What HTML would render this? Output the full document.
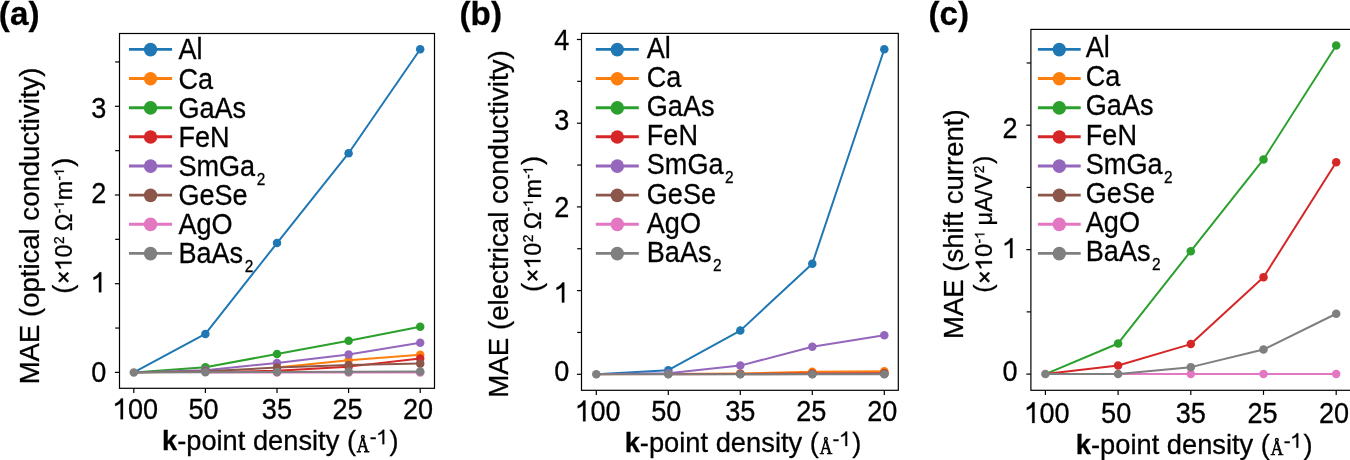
<!DOCTYPE html>
<html><head><meta charset="utf-8"><style>
html,body{margin:0;padding:0;background:#fff;width:1350px;height:460px;overflow:hidden}
svg{display:block;will-change:transform}
text,path{fill:#000;font-kerning:none;stroke:#000;stroke-width:0.28px} path{vector-effect:non-scaling-stroke}
</style></head><body>
<svg width="1350" height="460" viewBox="0 0 1350 460">
<rect width="1350" height="460" fill="#fff"/>
<clipPath id="ca"><rect x="119.5" y="33.5" width="315" height="354.8"/></clipPath>
<g clip-path="url(#ca)">
<polyline points="133.8,372.4 205.4,333.9 277,243.08 348.6,153.22 420.2,49.27" fill="none" stroke="#1f77b4" stroke-width="2.0" stroke-linejoin="round" stroke-linecap="round"/>
<circle cx="205.4" cy="333.9" r="4.25" fill="#1f77b4"/>
<circle cx="277" cy="243.08" r="4.25" fill="#1f77b4"/>
<circle cx="348.6" cy="153.22" r="4.25" fill="#1f77b4"/>
<circle cx="420.2" cy="49.27" r="4.25" fill="#1f77b4"/>
<polyline points="277,367.52 348.6,360.25 420.2,354.66" fill="none" stroke="#ff7f0e" stroke-width="2.0" stroke-linejoin="round" stroke-linecap="round"/>
<circle cx="348.6" cy="360.25" r="4.25" fill="#ff7f0e"/>
<circle cx="420.2" cy="354.66" r="4.25" fill="#ff7f0e"/>
<polyline points="133.8,372.4 205.4,367.17 277,354.04 348.6,340.82 420.2,326.81" fill="none" stroke="#2ca02c" stroke-width="2.0" stroke-linejoin="round" stroke-linecap="round"/>
<circle cx="205.4" cy="367.17" r="4.25" fill="#2ca02c"/>
<circle cx="277" cy="354.04" r="4.25" fill="#2ca02c"/>
<circle cx="348.6" cy="340.82" r="4.25" fill="#2ca02c"/>
<circle cx="420.2" cy="326.81" r="4.25" fill="#2ca02c"/>
<polyline points="205.4,372.05 277,370.8 348.6,366.63 420.2,358.47" fill="none" stroke="#d62728" stroke-width="2.0" stroke-linejoin="round" stroke-linecap="round"/>
<circle cx="277" cy="370.8" r="4.25" fill="#d62728"/>
<circle cx="348.6" cy="366.63" r="4.25" fill="#d62728"/>
<circle cx="420.2" cy="358.47" r="4.25" fill="#d62728"/>
<polyline points="133.8,372.4 205.4,370.18 277,362.91 348.6,354.39 420.2,342.86" fill="none" stroke="#9467bd" stroke-width="2.0" stroke-linejoin="round" stroke-linecap="round"/>
<circle cx="205.4" cy="370.18" r="4.25" fill="#9467bd"/>
<circle cx="277" cy="362.91" r="4.25" fill="#9467bd"/>
<circle cx="348.6" cy="354.39" r="4.25" fill="#9467bd"/>
<circle cx="420.2" cy="342.86" r="4.25" fill="#9467bd"/>
<polyline points="133.8,372.4 205.4,371.34 277,367.52 348.6,365.04 420.2,363.62" fill="none" stroke="#8c564b" stroke-width="2.0" stroke-linejoin="round" stroke-linecap="round"/>
<circle cx="205.4" cy="371.34" r="4.25" fill="#8c564b"/>
<circle cx="277" cy="367.52" r="4.25" fill="#8c564b"/>
<circle cx="348.6" cy="365.04" r="4.25" fill="#8c564b"/>
<circle cx="420.2" cy="363.62" r="4.25" fill="#8c564b"/>
<polyline points="205.4,372.4 277,372.4 348.6,372.4 420.2,372.4" fill="none" stroke="#e377c2" stroke-width="2.0" stroke-linejoin="round" stroke-linecap="round"/>
<circle cx="277" cy="372.4" r="4.25" fill="#e377c2"/>
<circle cx="348.6" cy="372.4" r="4.25" fill="#e377c2"/>
<circle cx="420.2" cy="372.4" r="4.25" fill="#e377c2"/>
<polyline points="133.8,372.4 205.4,372.22 277,371.96 348.6,371.78 420.2,371.6" fill="none" stroke="#7f7f7f" stroke-width="2.0" stroke-linejoin="round" stroke-linecap="round"/>
<circle cx="133.8" cy="372.4" r="4.25" fill="#7f7f7f"/>
<circle cx="205.4" cy="372.22" r="4.25" fill="#7f7f7f"/>
<circle cx="277" cy="371.96" r="4.25" fill="#7f7f7f"/>
<circle cx="348.6" cy="371.78" r="4.25" fill="#7f7f7f"/>
<circle cx="420.2" cy="371.6" r="4.25" fill="#7f7f7f"/>
</g>
<rect x="119.5" y="33.5" width="315" height="354.8" fill="none" stroke="#000" stroke-width="1.2"/>
<line x1="114.9" y1="372.4" x2="119.5" y2="372.4" stroke="#000" stroke-width="1.2"/>
<line x1="114.9" y1="283.7" x2="119.5" y2="283.7" stroke="#000" stroke-width="1.2"/>
<line x1="114.9" y1="195" x2="119.5" y2="195" stroke="#000" stroke-width="1.2"/>
<line x1="114.9" y1="106.3" x2="119.5" y2="106.3" stroke="#000" stroke-width="1.2"/>
<line x1="115.2" y1="328.05" x2="119.5" y2="328.05" stroke="#000" stroke-width="1.2"/>
<line x1="115.2" y1="239.35" x2="119.5" y2="239.35" stroke="#000" stroke-width="1.2"/>
<line x1="115.2" y1="150.65" x2="119.5" y2="150.65" stroke="#000" stroke-width="1.2"/>
<line x1="115.2" y1="61.95" x2="119.5" y2="61.95" stroke="#000" stroke-width="1.2"/>
<line x1="133.8" y1="388.3" x2="133.8" y2="392.9" stroke="#000" stroke-width="1.2"/>
<line x1="205.4" y1="388.3" x2="205.4" y2="392.9" stroke="#000" stroke-width="1.2"/>
<line x1="277" y1="388.3" x2="277" y2="392.9" stroke="#000" stroke-width="1.2"/>
<line x1="348.6" y1="388.3" x2="348.6" y2="392.9" stroke="#000" stroke-width="1.2"/>
<line x1="420.2" y1="388.3" x2="420.2" y2="392.9" stroke="#000" stroke-width="1.2"/>
<g transform="translate(91.2,382.08) scale(0.975,1.04)"><text x="0" y="0" style="font-family:'Liberation Sans', sans-serif;font-size:27.78px">0</text></g>
<g transform="translate(91.2,292.18) scale(0.975,1.04)"><path d="M763 0L583 0L583 1098Q500 1030 390 975Q280 920 175 890L175 1057Q340 1120 450 1215Q560 1310 610 1409L763 1409Z" transform="translate(0,0) scale(0.01356,-0.01356)"/></g>
<g transform="translate(91.2,203.08) scale(0.975,1.04)"><text x="0" y="0" style="font-family:'Liberation Sans', sans-serif;font-size:27.78px">2</text></g>
<g transform="translate(91.2,117.74) scale(0.975,1.04)"><text x="0" y="0" style="font-family:'Liberation Sans', sans-serif;font-size:27.78px">3</text></g>
<g transform="translate(112.88,419.15) scale(0.975,1.085)"><path d="M763 0L583 0L583 1098Q500 1030 390 975Q280 920 175 890L175 1057Q340 1120 450 1215Q560 1310 610 1409L763 1409Z" transform="translate(0,0) scale(0.01356,-0.01356)"/><text x="15.45 30.9" y="0" style="font-family:'Liberation Sans', sans-serif;font-size:27.78px">00</text></g>
<g transform="translate(188.42,419.15) scale(0.975,1.085)"><text x="0 15.45" y="0" style="font-family:'Liberation Sans', sans-serif;font-size:27.78px">50</text></g>
<g transform="translate(261.84,419.15) scale(0.975,1.085)"><text x="0 15.45" y="0" style="font-family:'Liberation Sans', sans-serif;font-size:27.78px">35</text></g>
<g transform="translate(332.52,419.15) scale(0.975,1.085)"><text x="0 15.45" y="0" style="font-family:'Liberation Sans', sans-serif;font-size:27.78px">25</text></g>
<g transform="translate(403.03,419.15) scale(0.975,1.085)"><text x="0 15.45" y="0" style="font-family:'Liberation Sans', sans-serif;font-size:27.78px">20</text></g>
<line x1="129" y1="49.4" x2="172.1" y2="49.4" stroke="#1f77b4" stroke-width="2.9"/>
<ellipse cx="150.55" cy="49.6" rx="6.7" ry="6.85" fill="#1f77b4"/>
<g transform="translate(178.4,59.4) scale(0.975,1.055)"><g transform="translate(0,0)"><text x="0 18.53" y="0" style="font-family:'Liberation Sans', sans-serif;font-size:27.78px">Al</text></g></g>
<line x1="129" y1="78.54" x2="172.1" y2="78.54" stroke="#ff7f0e" stroke-width="2.9"/>
<ellipse cx="150.55" cy="78.74" rx="6.7" ry="6.85" fill="#ff7f0e"/>
<g transform="translate(178.4,88.54) scale(0.975,1.055)"><g transform="translate(0,0)"><text x="0 20.06" y="0" style="font-family:'Liberation Sans', sans-serif;font-size:27.78px">Ca</text></g></g>
<line x1="129" y1="107.68" x2="172.1" y2="107.68" stroke="#2ca02c" stroke-width="2.9"/>
<ellipse cx="150.55" cy="107.88" rx="6.7" ry="6.85" fill="#2ca02c"/>
<g transform="translate(178.4,117.68) scale(0.975,1.055)"><g transform="translate(0,0)"><text x="0 21.61 37.06 55.59" y="0" style="font-family:'Liberation Sans', sans-serif;font-size:27.78px">GaAs</text></g></g>
<line x1="129" y1="136.82" x2="172.1" y2="136.82" stroke="#d62728" stroke-width="2.9"/>
<ellipse cx="150.55" cy="137.02" rx="6.7" ry="6.85" fill="#d62728"/>
<g transform="translate(178.4,146.82) scale(0.975,1.055)"><g transform="translate(0,0)"><text x="0 16.97 32.42" y="0" style="font-family:'Liberation Sans', sans-serif;font-size:27.78px">FeN</text></g></g>
<line x1="129" y1="165.96" x2="172.1" y2="165.96" stroke="#9467bd" stroke-width="2.9"/>
<ellipse cx="150.55" cy="166.16" rx="6.7" ry="6.85" fill="#9467bd"/>
<g transform="translate(178.4,175.96) scale(0.975,1.055)"><g transform="translate(0,0)"><text x="0 18.53 41.67 63.28" y="0" style="font-family:'Liberation Sans', sans-serif;font-size:27.78px">SmGa</text></g><g transform="translate(80.33,8.53)"><text x="0" y="0" style="font-family:'Liberation Sans', sans-serif;font-size:15.8px">2</text></g></g>
<line x1="129" y1="195.1" x2="172.1" y2="195.1" stroke="#8c564b" stroke-width="2.9"/>
<ellipse cx="150.55" cy="195.3" rx="6.7" ry="6.85" fill="#8c564b"/>
<g transform="translate(178.4,205.1) scale(0.975,1.055)"><g transform="translate(0,0)"><text x="0 21.61 37.06 55.59" y="0" style="font-family:'Liberation Sans', sans-serif;font-size:27.78px">GeSe</text></g></g>
<line x1="129" y1="224.24" x2="172.1" y2="224.24" stroke="#e377c2" stroke-width="2.9"/>
<ellipse cx="150.55" cy="224.44" rx="6.7" ry="6.85" fill="#e377c2"/>
<g transform="translate(178.4,234.24) scale(0.975,1.055)"><g transform="translate(0,0)"><text x="0 18.53 33.98" y="0" style="font-family:'Liberation Sans', sans-serif;font-size:27.78px">AgO</text></g></g>
<line x1="129" y1="253.38" x2="172.1" y2="253.38" stroke="#7f7f7f" stroke-width="2.9"/>
<ellipse cx="150.55" cy="253.58" rx="6.7" ry="6.85" fill="#7f7f7f"/>
<g transform="translate(178.4,263.38) scale(0.975,1.055)"><g transform="translate(0,0)"><text x="0 18.53 33.98 52.51" y="0" style="font-family:'Liberation Sans', sans-serif;font-size:27.78px">BaAs</text></g><g transform="translate(68,8.53)"><text x="0" y="0" style="font-family:'Liberation Sans', sans-serif;font-size:15.8px">2</text></g></g>
<g transform="translate(39.1,384.36) rotate(-90) scale(0.9912002397641847,1)"><g transform="translate(0,0)"><text x="0 23.14 41.67 67.92 77.17 92.62 108.07 115.79 121.96 135.85 151.3 165.19 179.08 194.53 209.98 225.43 240.88 254.77 262.49 268.66 282.55 288.72 296.44 310.33" y="0" style="font-family:'Liberation Sans', sans-serif;font-size:27.78px">MAE(opticalconductivity)</text></g></g>
<g transform="translate(71.5,293.7) rotate(-90) scale(0.9876089201809636,1)"><g transform="translate(0,0)"><text x="0" y="0" style="font-family:'Liberation Sans', sans-serif;font-size:27.78px">(</text></g><g transform="translate(10.05,-0.3)"><text x="0" y="0" style="font-family:'Liberation Sans', sans-serif;font-size:22.5px;stroke-width:0.6px">×</text></g><g transform="translate(23.59,0)"><path d="M763 0L583 0L583 1098Q500 1030 390 975Q280 920 175 890L175 1057Q340 1120 450 1215Q560 1310 610 1409L763 1409Z" transform="translate(0,0) scale(0.01152,-0.01152)"/><text x="13.13" y="0" style="font-family:'Liberation Sans', sans-serif;font-size:23.6px">0</text></g><g transform="translate(50.34,-7.6)"><text x="0" y="0" style="font-family:'Liberation Sans', sans-serif;font-size:13.8px">2</text></g><g transform="translate(63.52,0)"><text x="0" y="0" style="font-family:'Liberation Sans', sans-serif;font-size:23.6px">Ω</text></g><g transform="translate(81.56,-7.6)"><path d="M763 0L583 0L583 1098Q500 1030 390 975Q280 920 175 890L175 1057Q340 1120 450 1215Q560 1310 610 1409L763 1409Z" transform="translate(4.6,0) scale(0.00674,-0.00674)"/><text x="0" y="0" style="font-family:'Liberation Sans', sans-serif;font-size:13.8px">-</text></g><g transform="translate(94.63,0)"><text x="0" y="0" style="font-family:'Liberation Sans', sans-serif;font-size:23.6px">m</text></g><g transform="translate(114.69,-7.6)"><path d="M763 0L583 0L583 1098Q500 1030 390 975Q280 920 175 890L175 1057Q340 1120 450 1215Q560 1310 610 1409L763 1409Z" transform="translate(4.6,0) scale(0.00674,-0.00674)"/><text x="0" y="0" style="font-family:'Liberation Sans', sans-serif;font-size:13.8px">-</text></g><g transform="translate(128.46,0)"><text x="0" y="0" style="font-family:'Liberation Sans', sans-serif;font-size:27.78px">)</text></g></g>
<g transform="translate(162,450.4) scale(0.9814493397287359,1)"><g transform="translate(0,0)"><text x="0" y="0" style="font-family:'Liberation Sans', sans-serif;font-size:27.78px;font-weight:bold">k</text></g><g transform="translate(15.45,0)"><text x="0 9.25 24.7 40.15 46.32 61.77 77.21 92.66 108.11 123.56 137.45 143.62 151.34 172.95" y="0" style="font-family:'Liberation Sans', sans-serif;font-size:27.78px">-pointdensity(</text></g><g transform="translate(198.45,1.3) scale(0.81,1)"><text x="0" y="0" style="font-family:'Liberation Serif', serif;font-size:21.7px;stroke-width:0.75px">Å</text></g><g transform="translate(211.64,-6.2)"><path d="M763 0L583 0L583 1098Q500 1030 390 975Q280 920 175 890L175 1057Q340 1120 450 1215Q560 1310 610 1409L763 1409Z" transform="translate(6.99,0) scale(0.01025,-0.01025)"/><text x="0" y="0" style="font-family:'Liberation Sans', sans-serif;font-size:21px">-</text></g><g transform="translate(231.71,0)"><text x="0" y="0" style="font-family:'Liberation Sans', sans-serif;font-size:27.78px">)</text></g></g>
<g transform="translate(-1.13,25.2)"><g transform="translate(0,0)"><text x="0" y="0" style="font-family:'Liberation Sans', sans-serif;font-size:33.2px;font-weight:bold">(</text></g><g transform="translate(11.06,0)"><text x="0" y="0" style="font-family:'Liberation Sans', sans-serif;font-size:33.2px;font-weight:bold">a</text></g><g transform="translate(29.52,0)"><text x="0" y="0" style="font-family:'Liberation Sans', sans-serif;font-size:33.2px;font-weight:bold">)</text></g></g>
<clipPath id="cb"><rect x="581.5" y="33.4" width="316.8" height="356.9"/></clipPath>
<g clip-path="url(#cb)">
<polyline points="596.3,374.3 668.3,370.2 740.3,330.61 812.3,263.73 884.3,49.29" fill="none" stroke="#1f77b4" stroke-width="2.0" stroke-linejoin="round" stroke-linecap="round"/>
<circle cx="668.3" cy="370.2" r="4.25" fill="#1f77b4"/>
<circle cx="740.3" cy="330.61" r="4.25" fill="#1f77b4"/>
<circle cx="812.3" cy="263.73" r="4.25" fill="#1f77b4"/>
<circle cx="884.3" cy="49.29" r="4.25" fill="#1f77b4"/>
<polyline points="596.3,374.3 668.3,373.88 740.3,373.46 812.3,371.71 884.3,371.29" fill="none" stroke="#ff7f0e" stroke-width="2.0" stroke-linejoin="round" stroke-linecap="round"/>
<circle cx="668.3" cy="373.88" r="4.25" fill="#ff7f0e"/>
<circle cx="740.3" cy="373.46" r="4.25" fill="#ff7f0e"/>
<circle cx="812.3" cy="371.71" r="4.25" fill="#ff7f0e"/>
<circle cx="884.3" cy="371.29" r="4.25" fill="#ff7f0e"/>
<polyline points="668.3,374.3 740.3,373.88 812.3,373.46 884.3,373.3" fill="none" stroke="#d62728" stroke-width="2.0" stroke-linejoin="round" stroke-linecap="round"/>
<circle cx="740.3" cy="373.88" r="4.25" fill="#d62728"/>
<circle cx="812.3" cy="373.46" r="4.25" fill="#d62728"/>
<circle cx="884.3" cy="373.3" r="4.25" fill="#d62728"/>
<polyline points="596.3,374.3 668.3,373.21 740.3,365.6 812.3,346.76 884.3,335.21" fill="none" stroke="#9467bd" stroke-width="2.0" stroke-linejoin="round" stroke-linecap="round"/>
<circle cx="668.3" cy="373.21" r="4.25" fill="#9467bd"/>
<circle cx="740.3" cy="365.6" r="4.25" fill="#9467bd"/>
<circle cx="812.3" cy="346.76" r="4.25" fill="#9467bd"/>
<circle cx="884.3" cy="335.21" r="4.25" fill="#9467bd"/>
<polyline points="740.3,374.3 812.3,373.88 884.3,373.63" fill="none" stroke="#8c564b" stroke-width="2.0" stroke-linejoin="round" stroke-linecap="round"/>
<circle cx="812.3" cy="373.88" r="4.25" fill="#8c564b"/>
<circle cx="884.3" cy="373.63" r="4.25" fill="#8c564b"/>
<polyline points="596.3,374.3 668.3,374.3 740.3,374.3 812.3,374.3 884.3,374.3" fill="none" stroke="#7f7f7f" stroke-width="2.0" stroke-linejoin="round" stroke-linecap="round"/>
<circle cx="596.3" cy="374.3" r="4.25" fill="#7f7f7f"/>
<circle cx="668.3" cy="374.3" r="4.25" fill="#7f7f7f"/>
<circle cx="740.3" cy="374.3" r="4.25" fill="#7f7f7f"/>
<circle cx="812.3" cy="374.3" r="4.25" fill="#7f7f7f"/>
<circle cx="884.3" cy="374.3" r="4.25" fill="#7f7f7f"/>
</g>
<rect x="581.5" y="33.4" width="316.8" height="356.9" fill="none" stroke="#000" stroke-width="1.2"/>
<line x1="576.9" y1="374.3" x2="581.5" y2="374.3" stroke="#000" stroke-width="1.2"/>
<line x1="576.9" y1="290.6" x2="581.5" y2="290.6" stroke="#000" stroke-width="1.2"/>
<line x1="576.9" y1="206.9" x2="581.5" y2="206.9" stroke="#000" stroke-width="1.2"/>
<line x1="576.9" y1="123.2" x2="581.5" y2="123.2" stroke="#000" stroke-width="1.2"/>
<line x1="576.9" y1="39.5" x2="581.5" y2="39.5" stroke="#000" stroke-width="1.2"/>
<line x1="577.2" y1="332.45" x2="581.5" y2="332.45" stroke="#000" stroke-width="1.2"/>
<line x1="577.2" y1="248.75" x2="581.5" y2="248.75" stroke="#000" stroke-width="1.2"/>
<line x1="577.2" y1="165.05" x2="581.5" y2="165.05" stroke="#000" stroke-width="1.2"/>
<line x1="577.2" y1="81.35" x2="581.5" y2="81.35" stroke="#000" stroke-width="1.2"/>
<line x1="596.3" y1="390.3" x2="596.3" y2="394.9" stroke="#000" stroke-width="1.2"/>
<line x1="668.3" y1="390.3" x2="668.3" y2="394.9" stroke="#000" stroke-width="1.2"/>
<line x1="740.3" y1="390.3" x2="740.3" y2="394.9" stroke="#000" stroke-width="1.2"/>
<line x1="812.3" y1="390.3" x2="812.3" y2="394.9" stroke="#000" stroke-width="1.2"/>
<line x1="884.3" y1="390.3" x2="884.3" y2="394.9" stroke="#000" stroke-width="1.2"/>
<g transform="translate(554.2,380.83) scale(0.975,1.04)"><text x="0" y="0" style="font-family:'Liberation Sans', sans-serif;font-size:27.78px">0</text></g>
<g transform="translate(554.2,302.38) scale(0.975,1.04)"><path d="M763 0L583 0L583 1098Q500 1030 390 975Q280 920 175 890L175 1057Q340 1120 450 1215Q560 1310 610 1409L763 1409Z" transform="translate(0,0) scale(0.01356,-0.01356)"/></g>
<g transform="translate(554.2,217.08) scale(0.975,1.04)"><text x="0" y="0" style="font-family:'Liberation Sans', sans-serif;font-size:27.78px">2</text></g>
<g transform="translate(554.2,130.48) scale(0.975,1.04)"><text x="0" y="0" style="font-family:'Liberation Sans', sans-serif;font-size:27.78px">3</text></g>
<g transform="translate(554.2,50.08) scale(0.975,1.04)"><text x="0" y="0" style="font-family:'Liberation Sans', sans-serif;font-size:27.78px">4</text></g>
<g transform="translate(575.38,421.35) scale(0.975,1.085)"><path d="M763 0L583 0L583 1098Q500 1030 390 975Q280 920 175 890L175 1057Q340 1120 450 1215Q560 1310 610 1409L763 1409Z" transform="translate(0,0) scale(0.01356,-0.01356)"/><text x="15.45 30.9" y="0" style="font-family:'Liberation Sans', sans-serif;font-size:27.78px">00</text></g>
<g transform="translate(651.32,421.35) scale(0.975,1.085)"><text x="0 15.45" y="0" style="font-family:'Liberation Sans', sans-serif;font-size:27.78px">50</text></g>
<g transform="translate(725.14,421.35) scale(0.975,1.085)"><text x="0 15.45" y="0" style="font-family:'Liberation Sans', sans-serif;font-size:27.78px">35</text></g>
<g transform="translate(796.22,421.35) scale(0.975,1.085)"><text x="0 15.45" y="0" style="font-family:'Liberation Sans', sans-serif;font-size:27.78px">25</text></g>
<g transform="translate(867.13,421.35) scale(0.975,1.085)"><text x="0 15.45" y="0" style="font-family:'Liberation Sans', sans-serif;font-size:27.78px">20</text></g>
<line x1="595.8" y1="49.4" x2="638.8" y2="49.4" stroke="#1f77b4" stroke-width="2.9"/>
<ellipse cx="617.3" cy="49.6" rx="6.7" ry="6.85" fill="#1f77b4"/>
<g transform="translate(646.8,57.9) scale(0.975,1.055)"><g transform="translate(0,0)"><text x="0 18.53" y="0" style="font-family:'Liberation Sans', sans-serif;font-size:27.78px">Al</text></g></g>
<line x1="595.8" y1="78.54" x2="638.8" y2="78.54" stroke="#ff7f0e" stroke-width="2.9"/>
<ellipse cx="617.3" cy="78.74" rx="6.7" ry="6.85" fill="#ff7f0e"/>
<g transform="translate(646.8,87.04) scale(0.975,1.055)"><g transform="translate(0,0)"><text x="0 20.06" y="0" style="font-family:'Liberation Sans', sans-serif;font-size:27.78px">Ca</text></g></g>
<line x1="595.8" y1="107.68" x2="638.8" y2="107.68" stroke="#2ca02c" stroke-width="2.9"/>
<ellipse cx="617.3" cy="107.88" rx="6.7" ry="6.85" fill="#2ca02c"/>
<g transform="translate(646.8,116.18) scale(0.975,1.055)"><g transform="translate(0,0)"><text x="0 21.61 37.06 55.59" y="0" style="font-family:'Liberation Sans', sans-serif;font-size:27.78px">GaAs</text></g></g>
<line x1="595.8" y1="136.82" x2="638.8" y2="136.82" stroke="#d62728" stroke-width="2.9"/>
<ellipse cx="617.3" cy="137.02" rx="6.7" ry="6.85" fill="#d62728"/>
<g transform="translate(646.8,145.32) scale(0.975,1.055)"><g transform="translate(0,0)"><text x="0 16.97 32.42" y="0" style="font-family:'Liberation Sans', sans-serif;font-size:27.78px">FeN</text></g></g>
<line x1="595.8" y1="165.96" x2="638.8" y2="165.96" stroke="#9467bd" stroke-width="2.9"/>
<ellipse cx="617.3" cy="166.16" rx="6.7" ry="6.85" fill="#9467bd"/>
<g transform="translate(646.8,174.46) scale(0.975,1.055)"><g transform="translate(0,0)"><text x="0 18.53 41.67 63.28" y="0" style="font-family:'Liberation Sans', sans-serif;font-size:27.78px">SmGa</text></g><g transform="translate(80.33,8.53)"><text x="0" y="0" style="font-family:'Liberation Sans', sans-serif;font-size:15.8px">2</text></g></g>
<line x1="595.8" y1="195.1" x2="638.8" y2="195.1" stroke="#8c564b" stroke-width="2.9"/>
<ellipse cx="617.3" cy="195.3" rx="6.7" ry="6.85" fill="#8c564b"/>
<g transform="translate(646.8,203.6) scale(0.975,1.055)"><g transform="translate(0,0)"><text x="0 21.61 37.06 55.59" y="0" style="font-family:'Liberation Sans', sans-serif;font-size:27.78px">GeSe</text></g></g>
<line x1="595.8" y1="224.24" x2="638.8" y2="224.24" stroke="#e377c2" stroke-width="2.9"/>
<ellipse cx="617.3" cy="224.44" rx="6.7" ry="6.85" fill="#e377c2"/>
<g transform="translate(646.8,232.74) scale(0.975,1.055)"><g transform="translate(0,0)"><text x="0 18.53 33.98" y="0" style="font-family:'Liberation Sans', sans-serif;font-size:27.78px">AgO</text></g></g>
<line x1="595.8" y1="253.38" x2="638.8" y2="253.38" stroke="#7f7f7f" stroke-width="2.9"/>
<ellipse cx="617.3" cy="253.58" rx="6.7" ry="6.85" fill="#7f7f7f"/>
<g transform="translate(646.8,261.88) scale(0.975,1.055)"><g transform="translate(0,0)"><text x="0 18.53 33.98 52.51" y="0" style="font-family:'Liberation Sans', sans-serif;font-size:27.78px">BaAs</text></g><g transform="translate(68,8.53)"><text x="0" y="0" style="font-family:'Liberation Sans', sans-serif;font-size:15.8px">2</text></g></g>
<g transform="translate(508,397.67) rotate(-90) scale(0.9956804022027647,1)"><g transform="translate(0,0)"><text x="0 23.14 41.67 67.92 77.17 92.62 98.79 114.24 128.13 135.85 145.1 151.27 165.16 180.61 194.5 208.39 223.84 239.29 254.74 270.19 284.08 291.8 297.97 311.86 318.03 325.75 339.64" y="0" style="font-family:'Liberation Sans', sans-serif;font-size:27.78px">MAE(electricalconductivity)</text></g></g>
<g transform="translate(540.5,292) rotate(-90) scale(0.9883537232881893,1)"><g transform="translate(0,0)"><text x="0" y="0" style="font-family:'Liberation Sans', sans-serif;font-size:27.78px">(</text></g><g transform="translate(10.05,-0.3)"><text x="0" y="0" style="font-family:'Liberation Sans', sans-serif;font-size:22.5px;stroke-width:0.6px">×</text></g><g transform="translate(23.59,0)"><path d="M763 0L583 0L583 1098Q500 1030 390 975Q280 920 175 890L175 1057Q340 1120 450 1215Q560 1310 610 1409L763 1409Z" transform="translate(0,0) scale(0.01152,-0.01152)"/><text x="13.13" y="0" style="font-family:'Liberation Sans', sans-serif;font-size:23.6px">0</text></g><g transform="translate(50.34,-7.6)"><text x="0" y="0" style="font-family:'Liberation Sans', sans-serif;font-size:13.8px">2</text></g><g transform="translate(63.52,0)"><text x="0" y="0" style="font-family:'Liberation Sans', sans-serif;font-size:23.6px">Ω</text></g><g transform="translate(81.56,-7.6)"><path d="M763 0L583 0L583 1098Q500 1030 390 975Q280 920 175 890L175 1057Q340 1120 450 1215Q560 1310 610 1409L763 1409Z" transform="translate(4.6,0) scale(0.00674,-0.00674)"/><text x="0" y="0" style="font-family:'Liberation Sans', sans-serif;font-size:13.8px">-</text></g><g transform="translate(94.63,0)"><text x="0" y="0" style="font-family:'Liberation Sans', sans-serif;font-size:23.6px">m</text></g><g transform="translate(114.69,-7.6)"><path d="M763 0L583 0L583 1098Q500 1030 390 975Q280 920 175 890L175 1057Q340 1120 450 1215Q560 1310 610 1409L763 1409Z" transform="translate(4.6,0) scale(0.00674,-0.00674)"/><text x="0" y="0" style="font-family:'Liberation Sans', sans-serif;font-size:13.8px">-</text></g><g transform="translate(128.46,0)"><text x="0" y="0" style="font-family:'Liberation Sans', sans-serif;font-size:27.78px">)</text></g></g>
<g transform="translate(624.69,452.2) scale(0.9822921472338701,1)"><g transform="translate(0,0)"><text x="0" y="0" style="font-family:'Liberation Sans', sans-serif;font-size:27.78px;font-weight:bold">k</text></g><g transform="translate(15.45,0)"><text x="0 9.25 24.7 40.15 46.32 61.77 77.21 92.66 108.11 123.56 137.45 143.62 151.34 172.95" y="0" style="font-family:'Liberation Sans', sans-serif;font-size:27.78px">-pointdensity(</text></g><g transform="translate(198.45,1.3) scale(0.81,1)"><text x="0" y="0" style="font-family:'Liberation Serif', serif;font-size:21.7px;stroke-width:0.75px">Å</text></g><g transform="translate(211.64,-6.2)"><path d="M763 0L583 0L583 1098Q500 1030 390 975Q280 920 175 890L175 1057Q340 1120 450 1215Q560 1310 610 1409L763 1409Z" transform="translate(6.99,0) scale(0.01025,-0.01025)"/><text x="0" y="0" style="font-family:'Liberation Sans', sans-serif;font-size:21px">-</text></g><g transform="translate(231.71,0)"><text x="0" y="0" style="font-family:'Liberation Sans', sans-serif;font-size:27.78px">)</text></g></g>
<g transform="translate(459.56,24.8)"><g transform="translate(0,0)"><text x="0" y="0" style="font-family:'Liberation Sans', sans-serif;font-size:33.2px;font-weight:bold">(</text></g><g transform="translate(11.06,0)"><text x="0" y="0" style="font-family:'Liberation Sans', sans-serif;font-size:33.2px;font-weight:bold">b</text></g><g transform="translate(31.34,0)"><text x="0" y="0" style="font-family:'Liberation Sans', sans-serif;font-size:33.2px;font-weight:bold">)</text></g></g>
<clipPath id="cc"><rect x="1030.9" y="29.4" width="320" height="360.9"/></clipPath>
<g clip-path="url(#cc)">
<polyline points="1045.4,374.1 1118.1,343.49 1190.8,251.14 1263.5,159.42 1336.2,45.55" fill="none" stroke="#2ca02c" stroke-width="2.0" stroke-linejoin="round" stroke-linecap="round"/>
<circle cx="1118.1" cy="343.49" r="4.25" fill="#2ca02c"/>
<circle cx="1190.8" cy="251.14" r="4.25" fill="#2ca02c"/>
<circle cx="1263.5" cy="159.42" r="4.25" fill="#2ca02c"/>
<circle cx="1336.2" cy="45.55" r="4.25" fill="#2ca02c"/>
<polyline points="1045.4,374.1 1118.1,365.51 1190.8,344.11 1263.5,277.28 1336.2,162.16" fill="none" stroke="#d62728" stroke-width="2.0" stroke-linejoin="round" stroke-linecap="round"/>
<circle cx="1118.1" cy="365.51" r="4.25" fill="#d62728"/>
<circle cx="1190.8" cy="344.11" r="4.25" fill="#d62728"/>
<circle cx="1263.5" cy="277.28" r="4.25" fill="#d62728"/>
<circle cx="1336.2" cy="162.16" r="4.25" fill="#d62728"/>
<polyline points="1118.1,374.1 1190.8,374.1 1263.5,374.1 1336.2,374.1" fill="none" stroke="#e377c2" stroke-width="2.0" stroke-linejoin="round" stroke-linecap="round"/>
<circle cx="1190.8" cy="374.1" r="4.25" fill="#e377c2"/>
<circle cx="1263.5" cy="374.1" r="4.25" fill="#e377c2"/>
<circle cx="1336.2" cy="374.1" r="4.25" fill="#e377c2"/>
<polyline points="1045.4,374.1 1118.1,374.1 1190.8,367.13 1263.5,349.58 1336.2,313.74" fill="none" stroke="#7f7f7f" stroke-width="2.0" stroke-linejoin="round" stroke-linecap="round"/>
<circle cx="1045.4" cy="374.1" r="4.25" fill="#7f7f7f"/>
<circle cx="1118.1" cy="374.1" r="4.25" fill="#7f7f7f"/>
<circle cx="1190.8" cy="367.13" r="4.25" fill="#7f7f7f"/>
<circle cx="1263.5" cy="349.58" r="4.25" fill="#7f7f7f"/>
<circle cx="1336.2" cy="313.74" r="4.25" fill="#7f7f7f"/>
</g>
<rect x="1030.9" y="29.4" width="320" height="360.9" fill="none" stroke="#000" stroke-width="1.2"/>
<line x1="1026.3" y1="374.1" x2="1030.9" y2="374.1" stroke="#000" stroke-width="1.2"/>
<line x1="1026.3" y1="249.65" x2="1030.9" y2="249.65" stroke="#000" stroke-width="1.2"/>
<line x1="1026.3" y1="125.2" x2="1030.9" y2="125.2" stroke="#000" stroke-width="1.2"/>
<line x1="1026.6" y1="311.88" x2="1030.9" y2="311.88" stroke="#000" stroke-width="1.2"/>
<line x1="1026.6" y1="187.43" x2="1030.9" y2="187.43" stroke="#000" stroke-width="1.2"/>
<line x1="1026.6" y1="62.98" x2="1030.9" y2="62.98" stroke="#000" stroke-width="1.2"/>
<line x1="1045.4" y1="390.3" x2="1045.4" y2="394.9" stroke="#000" stroke-width="1.2"/>
<line x1="1118.1" y1="390.3" x2="1118.1" y2="394.9" stroke="#000" stroke-width="1.2"/>
<line x1="1190.8" y1="390.3" x2="1190.8" y2="394.9" stroke="#000" stroke-width="1.2"/>
<line x1="1263.5" y1="390.3" x2="1263.5" y2="394.9" stroke="#000" stroke-width="1.2"/>
<line x1="1336.2" y1="390.3" x2="1336.2" y2="394.9" stroke="#000" stroke-width="1.2"/>
<g transform="translate(1002.4,380.83) scale(0.975,1.04)"><text x="0" y="0" style="font-family:'Liberation Sans', sans-serif;font-size:27.78px">0</text></g>
<g transform="translate(1002.4,258.08) scale(0.975,1.04)"><path d="M763 0L583 0L583 1098Q500 1030 390 975Q280 920 175 890L175 1057Q340 1120 450 1215Q560 1310 610 1409L763 1409Z" transform="translate(0,0) scale(0.01356,-0.01356)"/></g>
<g transform="translate(1002.4,138.38) scale(0.975,1.04)"><text x="0" y="0" style="font-family:'Liberation Sans', sans-serif;font-size:27.78px">2</text></g>
<g transform="translate(1024.48,423.05) scale(0.975,1.085)"><path d="M763 0L583 0L583 1098Q500 1030 390 975Q280 920 175 890L175 1057Q340 1120 450 1215Q560 1310 610 1409L763 1409Z" transform="translate(0,0) scale(0.01356,-0.01356)"/><text x="15.45 30.9" y="0" style="font-family:'Liberation Sans', sans-serif;font-size:27.78px">00</text></g>
<g transform="translate(1101.12,423.05) scale(0.975,1.085)"><text x="0 15.45" y="0" style="font-family:'Liberation Sans', sans-serif;font-size:27.78px">50</text></g>
<g transform="translate(1175.64,423.05) scale(0.975,1.085)"><text x="0 15.45" y="0" style="font-family:'Liberation Sans', sans-serif;font-size:27.78px">35</text></g>
<g transform="translate(1247.42,423.05) scale(0.975,1.085)"><text x="0 15.45" y="0" style="font-family:'Liberation Sans', sans-serif;font-size:27.78px">25</text></g>
<g transform="translate(1319.03,423.05) scale(0.975,1.085)"><text x="0 15.45" y="0" style="font-family:'Liberation Sans', sans-serif;font-size:27.78px">20</text></g>
<line x1="1037.9" y1="49.4" x2="1080.7" y2="49.4" stroke="#1f77b4" stroke-width="2.9"/>
<ellipse cx="1059.3" cy="49.6" rx="6.7" ry="6.85" fill="#1f77b4"/>
<g transform="translate(1085.8,57.2) scale(0.975,1.055)"><g transform="translate(0,0)"><text x="0 18.53" y="0" style="font-family:'Liberation Sans', sans-serif;font-size:27.78px">Al</text></g></g>
<line x1="1037.9" y1="78.54" x2="1080.7" y2="78.54" stroke="#ff7f0e" stroke-width="2.9"/>
<ellipse cx="1059.3" cy="78.74" rx="6.7" ry="6.85" fill="#ff7f0e"/>
<g transform="translate(1085.8,86.34) scale(0.975,1.055)"><g transform="translate(0,0)"><text x="0 20.06" y="0" style="font-family:'Liberation Sans', sans-serif;font-size:27.78px">Ca</text></g></g>
<line x1="1037.9" y1="107.68" x2="1080.7" y2="107.68" stroke="#2ca02c" stroke-width="2.9"/>
<ellipse cx="1059.3" cy="107.88" rx="6.7" ry="6.85" fill="#2ca02c"/>
<g transform="translate(1085.8,115.48) scale(0.975,1.055)"><g transform="translate(0,0)"><text x="0 21.61 37.06 55.59" y="0" style="font-family:'Liberation Sans', sans-serif;font-size:27.78px">GaAs</text></g></g>
<line x1="1037.9" y1="136.82" x2="1080.7" y2="136.82" stroke="#d62728" stroke-width="2.9"/>
<ellipse cx="1059.3" cy="137.02" rx="6.7" ry="6.85" fill="#d62728"/>
<g transform="translate(1085.8,144.62) scale(0.975,1.055)"><g transform="translate(0,0)"><text x="0 16.97 32.42" y="0" style="font-family:'Liberation Sans', sans-serif;font-size:27.78px">FeN</text></g></g>
<line x1="1037.9" y1="165.96" x2="1080.7" y2="165.96" stroke="#9467bd" stroke-width="2.9"/>
<ellipse cx="1059.3" cy="166.16" rx="6.7" ry="6.85" fill="#9467bd"/>
<g transform="translate(1085.8,173.76) scale(0.975,1.055)"><g transform="translate(0,0)"><text x="0 18.53 41.67 63.28" y="0" style="font-family:'Liberation Sans', sans-serif;font-size:27.78px">SmGa</text></g><g transform="translate(80.33,8.53)"><text x="0" y="0" style="font-family:'Liberation Sans', sans-serif;font-size:15.8px">2</text></g></g>
<line x1="1037.9" y1="195.1" x2="1080.7" y2="195.1" stroke="#8c564b" stroke-width="2.9"/>
<ellipse cx="1059.3" cy="195.3" rx="6.7" ry="6.85" fill="#8c564b"/>
<g transform="translate(1085.8,202.9) scale(0.975,1.055)"><g transform="translate(0,0)"><text x="0 21.61 37.06 55.59" y="0" style="font-family:'Liberation Sans', sans-serif;font-size:27.78px">GeSe</text></g></g>
<line x1="1037.9" y1="224.24" x2="1080.7" y2="224.24" stroke="#e377c2" stroke-width="2.9"/>
<ellipse cx="1059.3" cy="224.44" rx="6.7" ry="6.85" fill="#e377c2"/>
<g transform="translate(1085.8,232.04) scale(0.975,1.055)"><g transform="translate(0,0)"><text x="0 18.53 33.98" y="0" style="font-family:'Liberation Sans', sans-serif;font-size:27.78px">AgO</text></g></g>
<line x1="1037.9" y1="253.38" x2="1080.7" y2="253.38" stroke="#7f7f7f" stroke-width="2.9"/>
<ellipse cx="1059.3" cy="253.58" rx="6.7" ry="6.85" fill="#7f7f7f"/>
<g transform="translate(1085.8,261.18) scale(0.975,1.055)"><g transform="translate(0,0)"><text x="0 18.53 33.98 52.51" y="0" style="font-family:'Liberation Sans', sans-serif;font-size:27.78px">BaAs</text></g><g transform="translate(68,8.53)"><text x="0" y="0" style="font-family:'Liberation Sans', sans-serif;font-size:15.8px">2</text></g></g>
<g transform="translate(963.4,339.06) rotate(-90) scale(0.9923368515019543,1)"><g transform="translate(0,0)"><text x="0 23.14 41.67 67.92 77.17 91.06 106.51 112.68 120.4 135.83 149.72 165.17 174.43 183.68 199.13 214.58 222.29" y="0" style="font-family:'Liberation Sans', sans-serif;font-size:27.78px">MAE(shiftcurrent)</text></g></g>
<g transform="translate(992,292.76) rotate(-90) scale(1.0043377814760173,1)"><g transform="translate(0,0)"><text x="0" y="0" style="font-family:'Liberation Sans', sans-serif;font-size:25px">(</text></g><g transform="translate(8.93,-0.3)"><text x="0" y="0" style="font-family:'Liberation Sans', sans-serif;font-size:22.5px;stroke-width:0.6px">×</text></g><g transform="translate(22.46,0)"><path d="M763 0L583 0L583 1098Q500 1030 390 975Q280 920 175 890L175 1057Q340 1120 450 1215Q560 1310 610 1409L763 1409Z" transform="translate(0,0) scale(0.01152,-0.01152)"/><text x="13.13" y="0" style="font-family:'Liberation Sans', sans-serif;font-size:23.6px">0</text></g><g transform="translate(49.12,-7.6)"><path d="M763 0L583 0L583 1098Q500 1030 390 975Q280 920 175 890L175 1057Q340 1120 450 1215Q560 1310 610 1409L763 1409Z" transform="translate(4.6,0) scale(0.00674,-0.00674)"/><text x="0" y="0" style="font-family:'Liberation Sans', sans-serif;font-size:13.8px">-</text></g><g transform="translate(66.89,0)"><text x="0 13.6 29.34 35.9" y="0" style="font-family:'Liberation Sans', sans-serif;font-size:23.6px">μA/V</text></g><g transform="translate(118.92,-7.6)"><text x="0" y="0" style="font-family:'Liberation Sans', sans-serif;font-size:13.8px">2</text></g><g transform="translate(128.1,0)"><text x="0" y="0" style="font-family:'Liberation Sans', sans-serif;font-size:25px">)</text></g></g>
<g transform="translate(1075.79,453.9) scale(0.9822921472338697,1)"><g transform="translate(0,0)"><text x="0" y="0" style="font-family:'Liberation Sans', sans-serif;font-size:27.78px;font-weight:bold">k</text></g><g transform="translate(15.45,0)"><text x="0 9.25 24.7 40.15 46.32 61.77 77.21 92.66 108.11 123.56 137.45 143.62 151.34 172.95" y="0" style="font-family:'Liberation Sans', sans-serif;font-size:27.78px">-pointdensity(</text></g><g transform="translate(198.45,1.3) scale(0.81,1)"><text x="0" y="0" style="font-family:'Liberation Serif', serif;font-size:21.7px;stroke-width:0.75px">Å</text></g><g transform="translate(211.64,-6.2)"><path d="M763 0L583 0L583 1098Q500 1030 390 975Q280 920 175 890L175 1057Q340 1120 450 1215Q560 1310 610 1409L763 1409Z" transform="translate(6.99,0) scale(0.01025,-0.01025)"/><text x="0" y="0" style="font-family:'Liberation Sans', sans-serif;font-size:21px">-</text></g><g transform="translate(231.71,0)"><text x="0" y="0" style="font-family:'Liberation Sans', sans-serif;font-size:27.78px">)</text></g></g>
<g transform="translate(928.55,25.2)"><g transform="translate(0,0)"><text x="0" y="0" style="font-family:'Liberation Sans', sans-serif;font-size:33.2px;font-weight:bold">(</text></g><g transform="translate(11.06,0)"><text x="0" y="0" style="font-family:'Liberation Sans', sans-serif;font-size:33.2px;font-weight:bold">c</text></g><g transform="translate(29.52,0)"><text x="0" y="0" style="font-family:'Liberation Sans', sans-serif;font-size:33.2px;font-weight:bold">)</text></g></g>
</svg>
</body></html>
